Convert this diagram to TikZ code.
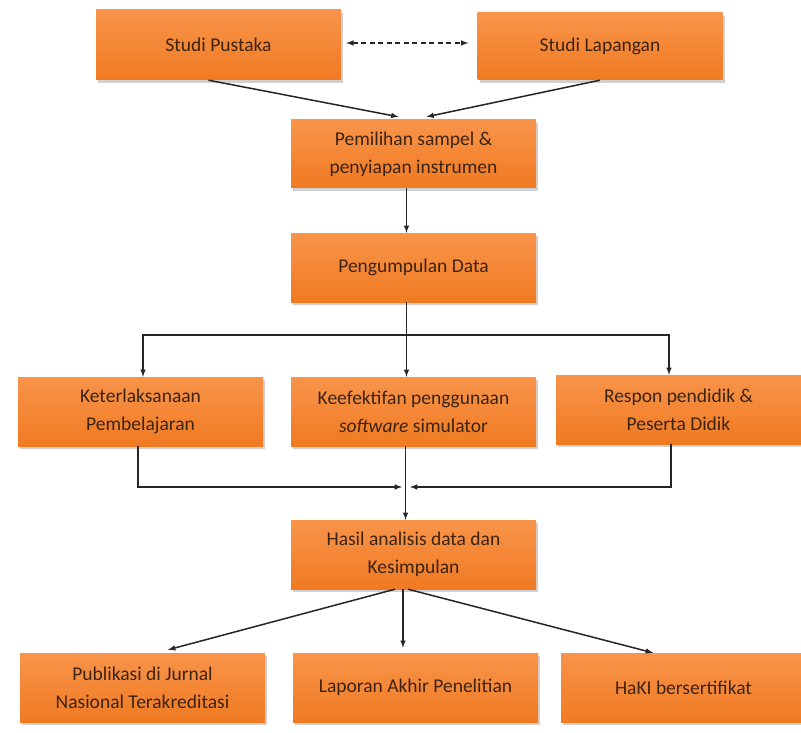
\documentclass[tikz,border=0pt]{standalone}
\usepackage{fontspec}
\setmainfont{Carlito}
\usetikzlibrary{shadows}
\definecolor{kotakatas}{HTML}{F8944A}
\definecolor{kotakbawah}{HTML}{F07A22}
\definecolor{teks}{HTML}{3C2414}
\begin{document}
\begin{tikzpicture}[x=1pt,y=-1pt,>=latex,
    kotak/.style={top color=kotakatas,bottom color=kotakbawah,text=teks,
        minimum width=245pt,minimum height=68pt,align=center,inner sep=2pt,
        font=\fontsize{19.5}{28}\selectfont,
        drop shadow={shadow xshift=2pt,shadow yshift=-3pt,fill=black!40,opacity=0.45}},
    garis/.style={line width=1.5pt,black!85},
    panah/.style={garis,->}]
    \useasboundingbox[fill=white] (0,0) rectangle (801,733);
    \draw (218.5,45)node[kotak,minimum height=70pt](pustaka){Studi Pustaka};
    \draw (600,46.5)node[kotak,minimum height=67pt](lapangan){Studi Lapangan};
    \draw[panah,<->,dash pattern=on 5pt off 3.5pt,shorten <=5pt,shorten >=9pt] ([yshift=2pt]pustaka.east)--([yshift=2pt]pustaka.east -| lapangan.west);
    \draw (413.5,154)node[kotak](pemilihan){Pemilihan sampel \&\\penyiapan instrumen};
    \draw[panah] ([xshift=-10pt]pustaka.south)--([xshift=-15pt,yshift=3pt]pemilihan.north);
    \draw[panah] (lapangan.south)--([xshift=13pt,yshift=3pt]pemilihan.north);
    \draw (413.5,267.5)node[kotak,minimum height=69pt](pengumpulan){Pengumpulan Data};
    \draw[panah] ([xshift=-7pt]pemilihan.south)--([xshift=-7pt]pengumpulan.north);
    \draw (140.5,411.5)node[kotak,minimum height=69pt](keterlaksanaan){Keterlaksanaan\\Pembelajaran};
    \draw (413.5,411.5)node[kotak,minimum height=69pt](keefektifan){Keefektifan penggunaan\\\textit{software} simulator};
    \draw (678.5,409.5)node[kotak,minimum height=69pt](respon){Respon pendidik \&\\Peserta Didik};
    \coordinate (cabang) at (406.5,335);
    \draw[garis] ([xshift=-7pt]pengumpulan.south)--(cabang);
    \draw[panah] (cabang)-|([xshift=2.5pt]keterlaksanaan.north);
    \draw[panah] (cabang)--([xshift=-7pt]keefektifan.north);
    \draw[panah] (cabang)-|([xshift=-9.5pt]respon.north);
    \draw (413.5,554.5)node[kotak,minimum height=69pt](hasil){Hasil analisis data dan\\Kesimpulan};
    \coordinate (gabung) at (406,487);
    \draw[panah] ([xshift=-2.5pt]keterlaksanaan.south)|-([xshift=-4pt]gabung);
    \draw[panah] ([xshift=-7.5pt]respon.south)|-([xshift=4pt]gabung);
    \draw[panah] ([xshift=-8pt]keefektifan.south)--([xshift=-8pt]hasil.north);
    \draw (142.5,687.5)node[kotak,minimum height=69pt](publikasi){Publikasi di Jurnal\\Nasional Terakreditasi};
    \draw (415.5,687.5)node[kotak,minimum height=69pt](laporan){Laporan Akhir Penelitian};
    \draw (683.5,687.5)node[kotak,minimum height=69pt](haki){HaKI bersertifikat};
    \draw[panah] ([xshift=-18.5pt]hasil.south)--([xshift=25.5pt,yshift=3pt]publikasi.north);
    \draw[panah] ([xshift=-10.5pt]hasil.south)--([xshift=-12.5pt,yshift=5pt]laporan.north);
    \draw[panah] ([xshift=-5.5pt]hasil.south)--([xshift=-30.5pt]haki.north);
\end{tikzpicture}
\end{document}
